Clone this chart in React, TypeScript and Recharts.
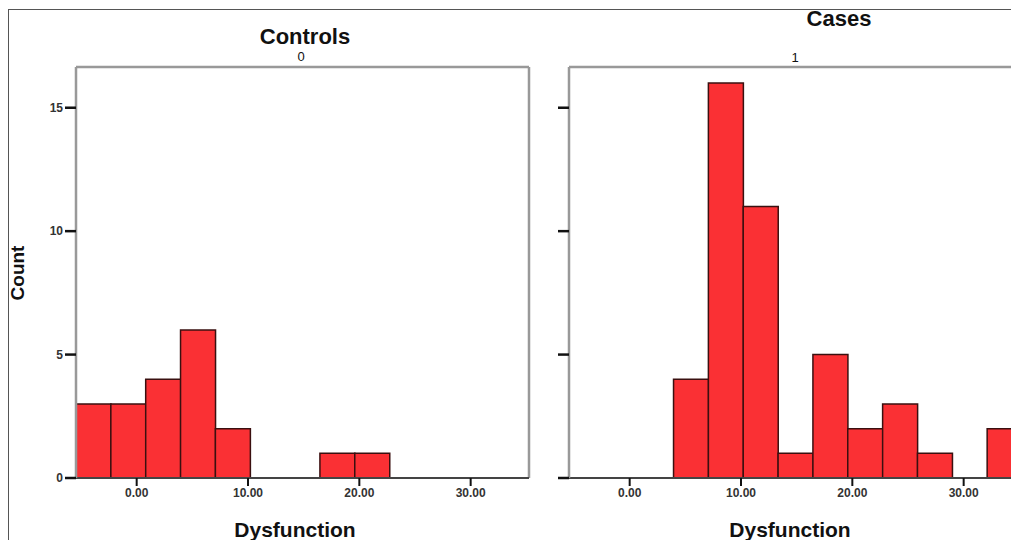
import React from 'react';
import { BarChart, Bar, XAxis, YAxis, ReferenceLine } from 'recharts';

// Histogram bins (lower edge of each bin, width ~3.13)
const binStarts = [-5.45, -2.32, 0.81, 3.94, 7.07, 10.2, 13.33, 16.46, 19.59, 22.72, 25.85, 28.98, 32.11];
const binMids = [-3.885, -0.755, 2.375, 5.505, 8.635, 11.765, 14.895, 18.025, 21.155, 24.285, 27.415, 30.545, 33.675];
const controlsCounts = [3, 3, 4, 6, 2, 0, 0, 1, 1, 0, 0, 0, 0];
const casesCounts = [0, 0, 0, 4, 16, 11, 1, 5, 2, 3, 1, 0, 2];

const xTicks = [0, 10, 20, 30];
const yTicks = [0, 5, 10, 15];
const xDomain = [-5.45, 35.24];
const yDomain = [0, 16.65];

const FONT = '"Liberation Sans", Arial, sans-serif';
const tickStyle = { fontSize: 12, fill: '#333', fontFamily: FONT, fontWeight: 'bold' as const };

const buildData = (counts: number[]) =>
  binStarts.map((b, i) => ({ bin: String(b), mid: binMids[i], count: counts[i] }));

const Panel = ({ counts, showYLabels }: { counts: number[]; showYLabels: boolean }) => (
  <BarChart
    width={540}
    height={540}
    data={buildData(counts)}
    margin={{ top: 67, right: 11, bottom: 32, left: 36 }}
    barCategoryGap={0}
    barGap={0}
  >
    <XAxis xAxisId="bins" dataKey="bin" type="category" hide height={0} />
    <XAxis
      xAxisId="num"
      dataKey="mid"
      type="number"
      domain={xDomain}
      allowDataOverflow
      ticks={xTicks}
      tickFormatter={(v: number) => v.toFixed(2)}
      height={30}
      tickSize={8}
      tickMargin={2}
      tick={tickStyle}
      tickLine={{ stroke: '#111', strokeWidth: 2 }}
      axisLine={{ stroke: '#444', strokeWidth: 2 }}
    />
    <YAxis
      yAxisId="left"
      type="number"
      domain={yDomain}
      allowDataOverflow
      ticks={yTicks}
      width={40}
      tickSize={11}
      tickMargin={2}
      tick={tickStyle}
      tickFormatter={(v: number) => (showYLabels ? String(v) : '')}
      tickLine={{ stroke: '#111', strokeWidth: 2.5 }}
      axisLine={{ stroke: '#999', strokeWidth: 2.5 }}
    />
    {/* top and right frame of the plot box */}
    <ReferenceLine xAxisId="num" yAxisId="left" y={yDomain[1]} stroke="#999" strokeWidth={2.5} />
    <ReferenceLine xAxisId="num" yAxisId="left" x={xDomain[1]} stroke="#999" strokeWidth={2.5} />
    <Bar
      xAxisId="bins"
      yAxisId="left"
      dataKey="count"
      fill="#fa3034"
      stroke="#3a1010"
      strokeWidth={1.5}
      isAnimationActive={false}
    />
  </BarChart>
);

const label = (text: string, x: number, y: number, size: number, bold: boolean, rotate = 0) => (
  <div
    style={{
      position: 'absolute',
      left: x,
      top: y,
      transform: `translate(-50%, -50%) rotate(${rotate}deg)`,
      fontFamily: FONT,
      fontSize: size,
      fontWeight: bold ? 'bold' : 'normal',
      color: '#111',
      whiteSpace: 'nowrap',
      lineHeight: 1,
    }}
  >
    {text}
  </div>
);

export default function App() {
  return (
    <div
      style={{
        position: 'absolute',
        left: 0,
        top: 0,
        width: 1011,
        height: 540,
        overflow: 'hidden',
        background: '#fff',
      }}
    >
      {/* outer frame */}
      <div
        style={{
          position: 'absolute',
          left: 8,
          top: 9,
          width: 1011,
          height: 540,
          borderLeft: '1.5px solid #555',
          borderTop: '1.5px solid #555',
        }}
      />
      <div style={{ position: 'absolute', left: 0, top: 0 }}>
        <Panel counts={controlsCounts} showYLabels={true} />
      </div>
      <div style={{ position: 'absolute', left: 493, top: 0 }}>
        <Panel counts={casesCounts} showYLabels={false} />
      </div>
      {label('Controls', 305, 37, 22, true)}
      {label('0', 301, 56, 13, false)}
      {label('Cases', 839, 19, 22, true)}
      {label('1', 795, 57, 13, false)}
      {label('Dysfunction', 295, 529, 21, true)}
      {label('Dysfunction', 790, 529, 21, true)}
      {label('Count', 17, 273, 19, true, -90)}
    </div>
  );
}
